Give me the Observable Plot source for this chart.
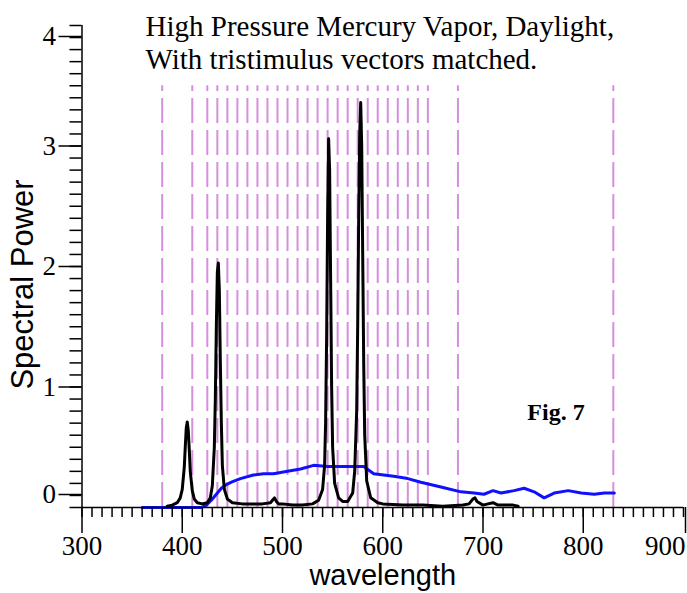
<!DOCTYPE html>
<html>
<head>
<meta charset="utf-8">
<script src="https://cdn.jsdelivr.net/npm/d3@7"></script>
<script src="https://cdn.jsdelivr.net/npm/@observablehq/plot@0.6"></script>
<style>
  html, body { margin: 0; padding: 0; background: #fff; }
  #chart { width: 687px; height: 593px; }
</style>
</head>
<body>
<div id="chart"></div>
<script>
// ---- data ----
const titleLines = ["High Pressure Mercury Vapor, Daylight,", "With tristimulus vectors matched."];
const figLabel = "Fig. 7";
const xLabel = "wavelength";
const yLabel = "Spectral Power";

const xTickLabels = [300, 400, 500, 600, 700, 800];
const xLastTick = [900];
const yTickMid = [1, 2, 3];
const yTickBottom = [0];
const yTickTop = [4];

// tristimulus matching wavelengths (dashed lines)
const markerWl = [380, 410, 425, 435, 445, 455, 465, 475, 485, 495, 505, 515, 525, 535, 545, 555, 565, 575, 585, 595, 605, 615, 625, 635, 645, 675, 830];

// high pressure mercury vapor spectrum (black)
const hgWl = [385, 390, 395, 398, 400, 402, 403, 404, 405, 406, 407, 408, 410, 412, 415, 420, 425, 428, 430, 432, 433, 434, 435, 436, 437, 438, 439, 440, 442, 445, 450, 460, 470, 480, 488, 490, 492, 494, 496, 500, 510, 520, 530, 536, 540, 542, 543, 544, 545, 546, 547, 548, 549, 550, 552, 556, 560, 565, 570, 572, 574, 575, 576, 577, 578, 579, 580, 581, 582, 584, 588, 595, 600, 620, 640, 660, 680, 686, 690, 692, 694, 700, 705, 710, 715, 720, 730, 735];
const hgVal = [0.01, 0.02, 0.04, 0.08, 0.15, 0.33, 0.5, 0.66, 0.71, 0.64, 0.48, 0.3, 0.14, 0.07, 0.04, 0.03, 0.04, 0.08, 0.18, 0.5, 0.9, 1.5, 1.95, 2.03, 1.8, 1.2, 0.7, 0.35, 0.15, 0.07, 0.04, 0.03, 0.03, 0.03, 0.04, 0.06, 0.08, 0.05, 0.03, 0.03, 0.02, 0.02, 0.03, 0.06, 0.15, 0.35, 0.7, 1.4, 2.4, 3.06, 2.8, 1.9, 1.0, 0.5, 0.2, 0.08, 0.05, 0.05, 0.12, 0.3, 0.8, 1.5, 2.4, 3.1, 3.36, 3.0, 2.1, 1.2, 0.6, 0.22, 0.08, 0.04, 0.03, 0.02, 0.02, 0.01, 0.02, 0.03, 0.07, 0.08, 0.05, 0.02, 0.03, 0.04, 0.02, 0.02, 0.02, 0.01];

// daylight spectrum with matched tristimulus (blue)
const dayWl = [360, 380, 400, 419, 424, 429, 434, 439, 444, 449, 458, 471, 481, 491, 498, 505, 518, 531, 545, 558, 571, 581, 591, 601, 611, 625, 638, 658, 678, 691, 701, 710, 718, 731, 741, 751, 761, 771, 785, 798, 811, 821, 831];
const dayVal = [0, 0, 0, 0, 0.02, 0.06, 0.11, 0.16, 0.19, 0.21, 0.24, 0.27, 0.28, 0.28, 0.29, 0.30, 0.32, 0.35, 0.34, 0.34, 0.34, 0.34, 0.28, 0.27, 0.26, 0.24, 0.21, 0.17, 0.13, 0.12, 0.11, 0.14, 0.12, 0.14, 0.16, 0.13, 0.08, 0.12, 0.14, 0.12, 0.11, 0.12, 0.12];

// ---- build ----
const hg = hgWl.map((w, i) => ({w, v: hgVal[i]}));
const day = dayWl.map((w, i) => ({w, v: dayVal[i]}));

const serif = "'Liberation Serif', 'Times New Roman', serif";
const sans = "'Liberation Sans', Arial, Helvetica, sans-serif";
const tickFont = 27;

const chart = Plot.plot({
  width: 687,
  height: 593,
  marginLeft: 81.5,
  marginRight: 4,
  marginTop: 25,
  marginBottom: 86,
  style: {background: "#fff", color: "#000"},
  x: {domain: [300, 900], label: null},
  y: {domain: [0, 4], label: null},
  marks: [
    // dashed tristimulus lines
    Plot.ruleX(markerWl, {x: d => d, y1: 0, y2: 3.5, stroke: "#d68fdd", strokeWidth: 2, strokeDasharray: "25,7"}),
    // spectra
    Plot.line(day, {x: "w", y: "v", stroke: "#1010ff", strokeWidth: 3}),
    Plot.line(hg, {x: "w", y: "v", stroke: "#000", strokeWidth: 3}),
    // axis lines
    Plot.ruleX([300], {y1: 0, y2: 4, stroke: "#000", strokeWidth: 1.5}),
    Plot.ruleY([0], {x1: 300, x2: 900, stroke: "#000", strokeWidth: 1.5}),
    // x minor ticks
    Plot.axisX({ticks: d3.range(300, 901, 10), tickSize: 10, tickFormat: () => "", label: null, strokeWidth: 1.5}),
    // x major ticks + labels
    Plot.axisX({ticks: xTickLabels, tickSize: 26, tickPadding: 2, tickFormat: "d", fontSize: tickFont, fontFamily: serif, label: null, strokeWidth: 1.5}),
    Plot.axisX({ticks: xLastTick, tickSize: 26, tickPadding: 2, tickFormat: "d", fontSize: tickFont, fontFamily: serif, textAnchor: "end", dx: 2, label: null, strokeWidth: 1.5}),
    // y minor ticks
    Plot.axisY({ticks: d3.range(0, 41).map(i => i / 10), tickSize: 12, tickFormat: () => "", label: null, strokeWidth: 1.5}),
    // y major ticks + labels
    Plot.axisY({ticks: yTickMid, tickSize: 23, tickPadding: 3, tickFormat: "d", fontSize: tickFont, fontFamily: serif, label: null, strokeWidth: 1.5}),
    Plot.axisY({ticks: yTickBottom, tickSize: 23, tickPadding: 3, tickFormat: "d", fontSize: tickFont, fontFamily: serif, dy: -13, label: null, strokeWidth: 1.5}),
    Plot.axisY({ticks: yTickTop, tickSize: 23, tickPadding: 3, tickFormat: "d", fontSize: tickFont, fontFamily: serif, dy: 11, label: null, strokeWidth: 1.5}),
    // axis titles
    Plot.text([xLabel], {frameAnchor: "bottom", dy: 68, fontSize: 29, fontFamily: sans, textAnchor: "middle", lineAnchor: "middle"}),
    Plot.text([yLabel], {frameAnchor: "left", dx: -59, dy: 18, rotate: -90, fontSize: 31, fontFamily: sans, textAnchor: "middle", lineAnchor: "middle"}),
    // title and figure label
    Plot.text([titleLines.join("\n")], {frameAnchor: "top-left", dx: 63.5, dy: -13, lineAnchor: "top", textAnchor: "start", fontSize: 29, fontFamily: serif, lineHeight: 1.14}),
    Plot.text([figLabel], {frameAnchor: "top-left", dx: 474, dy: 387, fontSize: 24, fontWeight: "bold", fontFamily: serif, textAnchor: "middle", lineAnchor: "middle"})
  ]
});
document.getElementById("chart").appendChild(chart);
</script>
</body>
</html>
